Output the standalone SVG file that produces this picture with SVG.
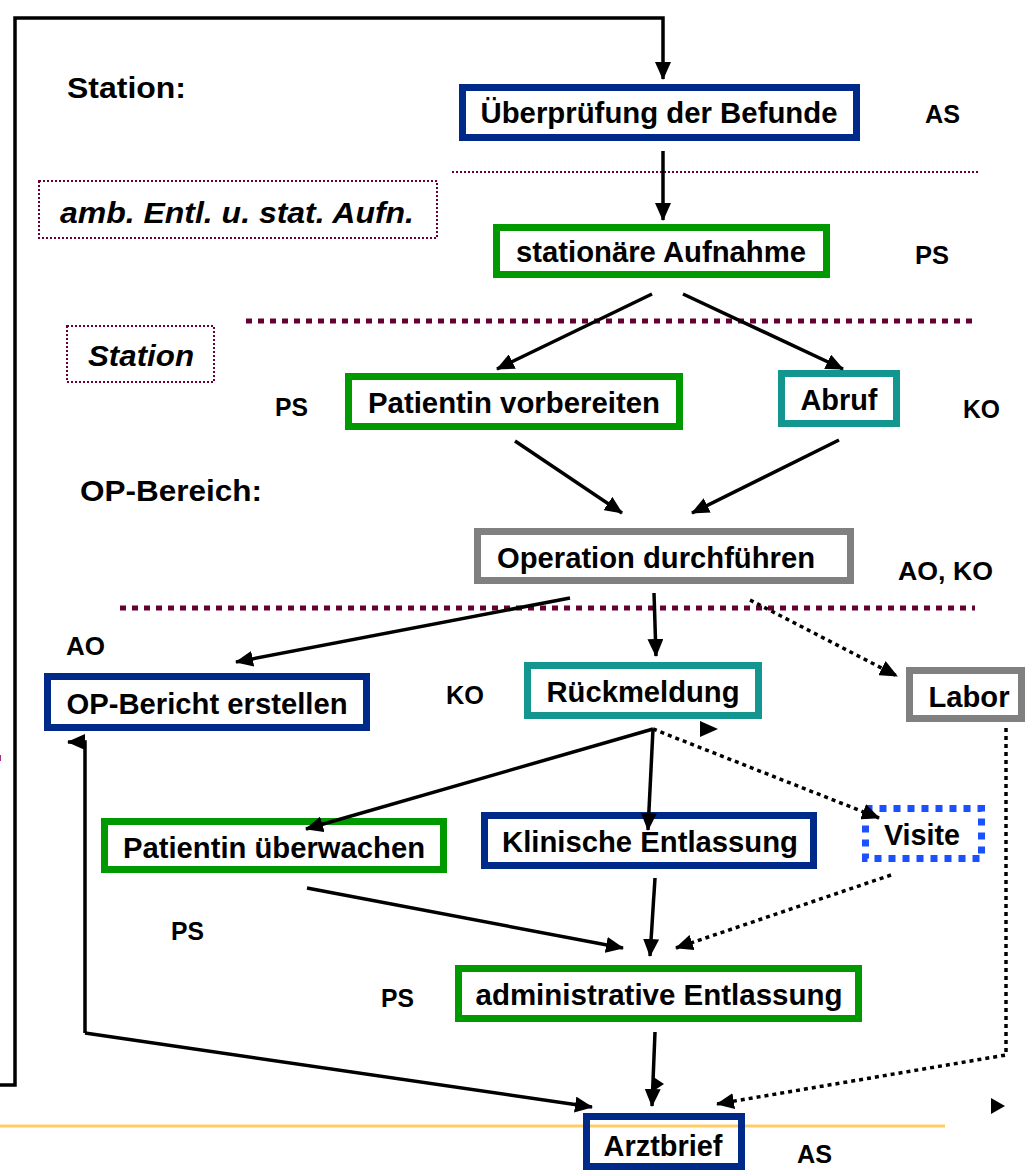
<svg xmlns="http://www.w3.org/2000/svg" width="1027" height="1171" viewBox="0 0 1027 1171">
<style>
text{font-family:"Liberation Sans",Arial,sans-serif;font-weight:bold;fill:#000}
.lbl{font-size:29px;text-anchor:middle}
.side{font-size:25px}
.head{font-size:30px}
.it{font-size:30px;font-style:italic}
.box{fill:none;stroke-width:7}
.blue{stroke:#002a8a}
.green{stroke:#009900}
.teal{stroke:#139690}
.gray{stroke:#808080}
.visite{stroke:#1a50ff;stroke-dasharray:7 7}
.sep{stroke:#660033;fill:none}
.c{fill:none;stroke:#000;stroke-width:3.5}
.d{fill:none;stroke:#000;stroke-width:3.5;stroke-dasharray:4 4}
</style>
<defs>
<marker id="ah" markerUnits="userSpaceOnUse" markerWidth="18" markerHeight="16" refX="17" refY="8" orient="auto">
<path d="M0,0 L18,8 L0,16 z" fill="#000"/>
</marker>
</defs>
<rect width="1027" height="1171" fill="#fff"/>

<g id="separators">
<line class="sep" x1="452" y1="172" x2="978" y2="172" stroke-width="2" stroke-dasharray="2 2"/>
<line class="sep" x1="246" y1="321" x2="978" y2="321" stroke-width="5" stroke-dasharray="6 6"/>
<line class="sep" x1="120" y1="608" x2="975" y2="608" stroke-width="5" stroke-dasharray="6 6"/>
<line x1="0" y1="1126" x2="945" y2="1126" stroke="#ffcc66" stroke-width="3"/>
<line x1="0" y1="755" x2="0" y2="761" stroke="#a03080" stroke-width="2"/>
</g>

<g id="region-labels">
<text class="head" x="67" y="98" textLength="119" lengthAdjust="spacingAndGlyphs">Station:</text>
<text class="head" x="80" y="501" textLength="182" lengthAdjust="spacingAndGlyphs">OP-Bereich:</text>
<g id="amb">
<rect x="39" y="181" width="398" height="57" fill="none" stroke="#660033" stroke-width="2" stroke-dasharray="2 2"/>
<text class="it" x="60" y="223" textLength="354" lengthAdjust="spacingAndGlyphs">amb. Entl. u. stat. Aufn.</text>
</g>
<g id="station2">
<rect x="67" y="326" width="147" height="56" fill="none" stroke="#660033" stroke-width="2" stroke-dasharray="2 2"/>
<text class="it" x="88" y="366" textLength="106" lengthAdjust="spacingAndGlyphs">Station</text>
</g>
</g>

<g id="roles">
<text class="side" x="925" y="123" textLength="35" lengthAdjust="spacingAndGlyphs">AS</text>
<text class="side" x="915" y="264" textLength="34" lengthAdjust="spacingAndGlyphs">PS</text>
<text class="side" x="275" y="416" textLength="33" lengthAdjust="spacingAndGlyphs">PS</text>
<text class="side" x="963" y="418" textLength="37" lengthAdjust="spacingAndGlyphs">KO</text>
<text class="side" x="898" y="580" textLength="95" lengthAdjust="spacingAndGlyphs">AO, KO</text>
<text class="side" x="66" y="655" textLength="39" lengthAdjust="spacingAndGlyphs">AO</text>
<text class="side" x="446" y="704" textLength="38" lengthAdjust="spacingAndGlyphs">KO</text>
<text class="side" x="171" y="940" textLength="33" lengthAdjust="spacingAndGlyphs">PS</text>
<text class="side" x="381" y="1007" textLength="33" lengthAdjust="spacingAndGlyphs">PS</text>
<text class="side" x="797" y="1163" textLength="35" lengthAdjust="spacingAndGlyphs">AS</text>
</g>

<g id="n-befunde">
<rect class="box blue" x="462.5" y="87.5" width="394" height="50"/>
<text class="lbl" x="659" y="123" textLength="357" lengthAdjust="spacingAndGlyphs">Überprüfung der Befunde</text>
</g>
<g id="n-aufnahme">
<rect class="box green" x="496.5" y="227.5" width="330" height="47"/>
<text class="lbl" x="661" y="262" textLength="290" lengthAdjust="spacingAndGlyphs">stationäre Aufnahme</text>
</g>
<g id="n-vorbereiten">
<rect class="box green" x="348.5" y="376.5" width="331" height="50"/>
<text class="lbl" x="514" y="413" textLength="292" lengthAdjust="spacingAndGlyphs">Patientin vorbereiten</text>
</g>
<g id="n-abruf">
<rect class="box teal" x="781.5" y="373.5" width="115" height="50"/>
<text class="lbl" x="839" y="410" textLength="77" lengthAdjust="spacingAndGlyphs">Abruf</text>
</g>
<g id="n-operation">
<rect class="box gray" x="477.5" y="531.5" width="373" height="49"/>
<text class="lbl" x="656" y="568" textLength="318" lengthAdjust="spacingAndGlyphs">Operation durchführen</text>
</g>
<g id="n-opbericht">
<rect class="box blue" x="47.5" y="676.5" width="319" height="51"/>
<text class="lbl" x="207" y="714" textLength="281" lengthAdjust="spacingAndGlyphs">OP-Bericht erstellen</text>
</g>
<g id="n-rueckmeldung">
<rect class="box teal" x="527.5" y="665.5" width="231" height="50"/>
<text class="lbl" x="643" y="702" textLength="193" lengthAdjust="spacingAndGlyphs">Rückmeldung</text>
</g>
<g id="n-labor">
<rect class="box gray" x="909.5" y="670.5" width="112" height="48"/>
<text class="lbl" x="969" y="707" textLength="81" lengthAdjust="spacingAndGlyphs">Labor</text>
</g>
<g id="n-ueberwachen">
<rect class="box green" x="104.5" y="821.5" width="339" height="48"/>
<text class="lbl" x="274" y="858" textLength="302" lengthAdjust="spacingAndGlyphs">Patientin überwachen</text>
</g>
<g id="n-klinisch">
<rect class="box blue" x="484.5" y="815.5" width="329" height="50"/>
<text class="lbl" x="650" y="852" textLength="296" lengthAdjust="spacingAndGlyphs">Klinische Entlassung</text>
</g>
<g id="n-visite">
<rect class="box visite" x="865.5" y="808.5" width="116" height="50"/>
<text class="lbl" x="922" y="845" textLength="76" lengthAdjust="spacingAndGlyphs">Visite</text>
</g>
<g id="n-admin">
<rect class="box green" x="458.5" y="968.5" width="400" height="50"/>
<text class="lbl" x="659" y="1005" textLength="367" lengthAdjust="spacingAndGlyphs">administrative Entlassung</text>
</g>
<g id="n-arztbrief">
<rect class="box blue" x="586.5" y="1116.5" width="155" height="50"/>
<text class="lbl" x="663" y="1156" textLength="119" lengthAdjust="spacingAndGlyphs">Arztbrief</text>
</g>

<g id="connectors">
<path class="c" d="M0,1085 H15 V18 H663 V79" marker-end="url(#ah)"/>
<path class="c" d="M663,151 V220" marker-end="url(#ah)"/>
<path class="c" d="M652,294 L497,369" marker-end="url(#ah)"/>
<path class="c" d="M683,294 L843,369" marker-end="url(#ah)"/>
<path class="c" d="M515,441 L622,513" marker-end="url(#ah)"/>
<path class="c" d="M839,440 L692,513" marker-end="url(#ah)"/>
<path class="c" d="M570,598 L236,662" marker-end="url(#ah)"/>
<path class="c" d="M654,593 L656,656" marker-end="url(#ah)"/>
<path class="d" d="M750,600 L897,676" marker-end="url(#ah)"/>
<path class="c" d="M653,729 L306,829" marker-end="url(#ah)"/>
<path class="c" d="M653,729 L648,830" marker-end="url(#ah)"/>
<path class="d" d="M653,729 L879,818" marker-end="url(#ah)"/>
<path d="M700,721 L718,729 L700,737 z" fill="#000"/>
<path class="c" d="M307,888 L623,948" marker-end="url(#ah)"/>
<path class="c" d="M655,878 L650,956" marker-end="url(#ah)"/>
<path class="d" d="M891,875 L676,948" marker-end="url(#ah)"/>
<path class="c" d="M85,1033 V742 H68" marker-end="url(#ah)"/>
<path class="c" d="M85,1033 L592,1107" marker-end="url(#ah)"/>
<path class="c" d="M655,1032 L652,1106" marker-end="url(#ah)"/>
<path d="M652,1076 L664,1084 L652,1092 z" fill="#000"/>
<path class="d" d="M1006,728 V1055 L717,1104" marker-end="url(#ah)"/>
<path d="M991,1098 L1005,1106 L991,1114 z" fill="#000"/>
</g>
</svg>
